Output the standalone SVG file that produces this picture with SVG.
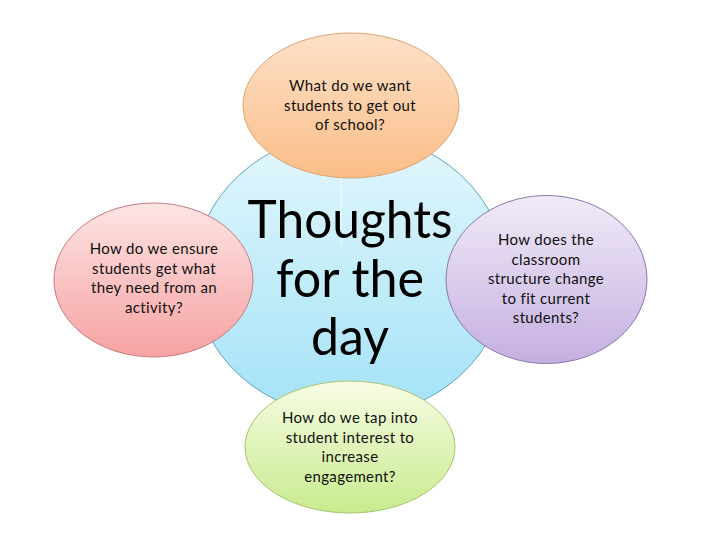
<svg xmlns="http://www.w3.org/2000/svg" width="720" height="540" viewBox="0 0 720 540">
  <style>
    .small { font-family: Lato, "Open Sans", "Liberation Sans", sans-serif; font-size: 15px; letter-spacing: 0.35px; fill: #111; text-anchor: middle; }
    .big { font-family: Lato, "Open Sans", "Liberation Sans", sans-serif; font-size: 52px; fill: #000; text-anchor: middle; }
  </style>
  <defs>
    <linearGradient id="gBlue" x1="0" y1="0" x2="0" y2="1">
      <stop offset="0" stop-color="#e4f7fd"/>
      <stop offset="1" stop-color="#a2e2f7"/>
    </linearGradient>
    <linearGradient id="gOrange" x1="0" y1="0" x2="0" y2="1">
      <stop offset="0" stop-color="#fde1c8"/>
      <stop offset="1" stop-color="#fbbd88"/>
    </linearGradient>
    <linearGradient id="gPink" x1="0" y1="0" x2="0" y2="1">
      <stop offset="0" stop-color="#fde4e4"/>
      <stop offset="1" stop-color="#f7a2a2"/>
    </linearGradient>
    <linearGradient id="gPurple" x1="0" y1="0" x2="0" y2="1">
      <stop offset="0" stop-color="#f1ebf8"/>
      <stop offset="1" stop-color="#c5afe0"/>
    </linearGradient>
    <linearGradient id="gGreen" x1="0" y1="0" x2="0" y2="1">
      <stop offset="0" stop-color="#f8fce4"/>
      <stop offset="1" stop-color="#c8eb8e"/>
    </linearGradient>
  </defs>
  <rect width="720" height="540" fill="#ffffff"/>

  <g id="center">
    <ellipse cx="350" cy="275" rx="156" ry="142" fill="url(#gBlue)" stroke="#5fa3b8" stroke-width="1"/>
    <line x1="341" y1="176" x2="341" y2="246" stroke="#ffffff" stroke-width="1" opacity="0.8"/>
    <text class="big" x="350" y="238" textLength="205" lengthAdjust="spacingAndGlyphs">Thoughts</text>
    <text class="big" x="350" y="297" textLength="148" lengthAdjust="spacingAndGlyphs">for the</text>
    <text class="big" x="350" y="355" textLength="78" lengthAdjust="spacingAndGlyphs">day</text>
  </g>

  <g id="connectors"></g>

  <g id="top">
    <ellipse cx="351" cy="105.5" rx="108" ry="72.5" fill="url(#gOrange)" stroke="#dba472" stroke-width="1"/>
    <text class="small" x="350" y="91">What do we want</text>
    <text class="small" x="350" y="111">students to get out</text>
    <text class="small" x="350" y="130">of school?</text>
  </g>

  <g id="left">
    <ellipse cx="153.5" cy="280" rx="99.5" ry="77" fill="url(#gPink)" stroke="#c77a80" stroke-width="1"/>
    <text class="small" x="154" y="254">How do we ensure</text>
    <text class="small" x="154" y="274">students get what</text>
    <text class="small" x="154" y="293">they need from an</text>
    <text class="small" x="154" y="313">activity?</text>
  </g>

  <g id="right">
    <ellipse cx="546.5" cy="279.5" rx="100.5" ry="84" fill="url(#gPurple)" stroke="#8a78ad" stroke-width="1"/>
    <text class="small" x="546" y="245">How does the</text>
    <text class="small" x="546" y="265">classroom</text>
    <text class="small" x="546" y="284">structure change</text>
    <text class="small" x="546" y="304">to fit current</text>
    <text class="small" x="546" y="323">students?</text>
  </g>

  <g id="bottom">
    <ellipse cx="350" cy="447" rx="105" ry="66" fill="url(#gGreen)" stroke="#a7c470" stroke-width="1"/>
    <text class="small" x="350" y="423">How do we tap into</text>
    <text class="small" x="350" y="443">student interest to</text>
    <text class="small" x="350" y="462">increase</text>
    <text class="small" x="350" y="482">engagement?</text>
  </g>
</svg>
